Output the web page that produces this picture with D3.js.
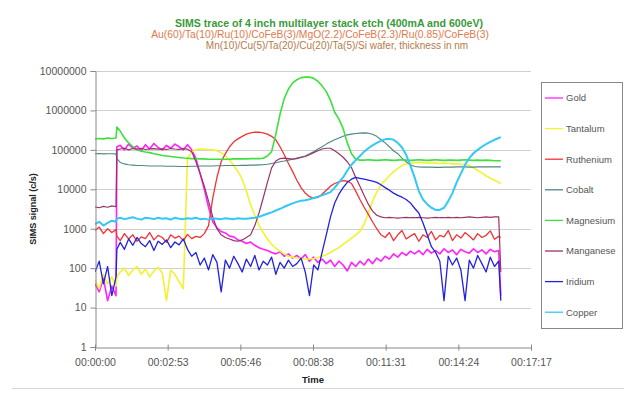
<!DOCTYPE html>
<html>
<head>
<meta charset="utf-8">
<script src="https://cdn.jsdelivr.net/npm/d3@7"></script>
<style>
  html, body { margin: 0; padding: 0; background: #fff; }
  svg text { font-family: "Liberation Sans", Arial, sans-serif; }
</style>
</head>
<body>
<div id="graph"></div>
<script>
// time in seconds since start of etch
const times = [0,10,20,30,40,50,52,
  60,70,80,90,100,110,120,130,140,150,
  160,170,180,190,200,210,220,230,240,250,
  260,270,280,290,300,310,320,330,340,350,
  360,370,380,390,400,410,420,430,440,450,
  460,470,480,490,500,510,520,530,540,550,
  560,570,580,590,600,610,620,630,640,650,
  660,670,680,690,700,710,720,730,740,750,
  760,770,780,790,800,810,820,830,840,850,
  860,870,880,890,900,910,920,930,940,950,
  960,965];

const seriesNames = ['Gold','Tantalum','Ruthenium','Cobalt','Magnesium','Manganese','Iridium','Copper'];

const gold = [40,25,55,15,35,20,
  120000,
  130000,100000,140000,110000,125000,95000,135000,105000,145000,115000,
  100000,130000,110000,140000,120000,100000,135000,100000,60000,25000,
  10000,3500,1500,1050,850,780,650,620,520,480,
  420,460,380,330,300,280,250,230,260,200,
  230,180,210,170,220,150,190,140,170,130,
  160,110,150,120,85,140,110,150,120,170,
  130,180,150,200,170,230,190,250,210,270,
  230,280,220,300,240,280,230,310,250,290,
  220,300,260,240,310,250,290,230,300,260,
  280,20];

const tantalum = [50,30,70,40,60,35,
  60,
  80,100,65,90,110,70,95,60,85,105,
  75,15,90,70,45,30,60000,90000,100000,105000,
  105000,100000,100000,95000,85000,70000,55000,40000,28000,18000,
  9000,4000,2200,1200,800,550,400,320,270,230,
  200,190,180,175,170,170,175,185,200,220,
  250,290,330,400,480,580,700,850,1300,2500,
  5000,8500,13000,17000,22000,28000,34000,40000,44000,46000,
  47000,48000,47000,46000,47000,46000,45000,46000,45000,44000,
  44000,43000,42000,40000,35000,30000,26000,22000,19000,17000,
  15000,14000];

const ruthenium = [900,1100,750,1000,800,950,
  650,
  500,750,550,700,480,620,560,800,520,680,
  600,450,700,580,650,500,720,560,640,600,
  750,1200,6000,20000,50000,80000,120000,160000,190000,220000,
  250000,270000,280000,280000,270000,250000,220000,180000,120000,75000,
  45000,28000,17000,11000,8000,6500,6000,6200,7500,9500,
  12000,14000,15500,16500,16000,14000,9000,5500,3500,2300,
  1500,1000,700,600,800,500,700,900,550,650,
  750,480,700,600,850,520,680,620,900,500,
  700,580,800,650,520,750,600,680,880,540,
  640,600];

const cobalt = [80000,81000,79000,80000,80000,79000,
  60000,
  48000,44000,42000,41000,40000,40000,39500,39000,39000,39000,
  39000,38500,38500,38500,38000,38000,38000,38500,38500,39000,
  39000,39000,39000,39500,39500,40000,40000,40000,40000,40500,
  40500,41000,41000,41500,42000,43000,45000,47000,50000,52000,
  55000,58000,62000,66000,70000,80000,90000,105000,120000,140000,
  160000,180000,200000,220000,240000,250000,260000,265000,270000,265000,
  250000,220000,180000,150000,120000,95000,80000,62000,50000,42000,
  38000,37000,36500,36500,36500,36000,36000,36500,36500,36500,
  37000,37000,37000,36500,36500,37000,37000,37000,37000,37000,
  37000,37000];

const magnesium = [190000,195000,190000,200000,195000,200000,
  380000,
  300000,200000,150000,120000,100000,92000,88000,85000,80000,76000,
  72000,70000,68000,66000,64000,62000,61000,60000,60000,59000,
  59000,58000,58000,58000,58000,58000,58000,59000,59000,59000,
  59000,60000,60000,60000,61000,70000,90000,250000,800000,2000000,
  3500000,5000000,6000000,6800000,7000000,7000000,6500000,5500000,4200000,3000000,
  1800000,900000,600000,350000,150000,80000,58000,55000,55000,56000,
  55000,54000,55000,56000,55000,54000,55000,56000,55000,54000,
  55000,56000,55000,54000,55000,56000,55000,54000,55000,55000,
  54000,55000,56000,55000,54000,55000,54000,55000,54000,53000,
  53000,53000];

const manganese = [3600,3400,3700,3500,3800,3600,
  100000,
  105000,110000,100000,108000,104000,110000,102000,106000,108000,104000,
  106000,102000,108000,105000,103000,107000,104000,90000,50000,25000,
  12000,5000,2000,1000,700,600,550,500,480,520,
  600,700,1200,2500,6000,15000,35000,52000,60000,62000,
  60000,58000,60000,64000,68000,75000,85000,95000,105000,110000,
  110000,95000,80000,65000,50000,35000,20000,12000,7000,4200,
  2800,2200,2000,1900,1950,1900,1850,1900,1950,1900,
  1900,1950,1900,1850,1900,1950,1900,1900,1950,1900,
  1950,1900,1950,2000,1950,1900,1950,2000,1950,2000,
  2000,80];

const iridium = [80,150,40,110,20,60,
  300,
  450,300,550,380,600,420,350,500,280,480,
  400,520,330,460,390,550,300,200,250,120,
  180,90,220,140,25,160,100,200,130,80,
  170,110,210,90,150,120,190,70,140,100,
  160,110,130,180,80,20,120,90,250,700,
  2000,4500,7500,11000,15000,18000,20000,19000,18000,17000,
  16000,15000,13000,11000,9500,8000,7000,6300,5500,4500,
  3300,2500,1400,700,350,250,150,15,200,120,
  180,90,15,160,100,210,130,80,190,110,
  150,15];

const copper = [1300,1500,1200,1400,1600,1500,
  1800,
  1900,1750,1850,1950,1800,1700,1900,1850,1750,1900,
  1800,1850,1700,1900,1800,1750,1850,1800,1900,1750,
  1800,1700,1850,1800,1750,1850,1800,1750,1850,1800,
  1800,1850,1900,2000,2200,2400,2600,2900,3200,3600,
  4000,4400,4800,5100,5300,5600,6000,6500,7000,7700,
  8500,11000,15000,20000,30000,42000,55000,70000,90000,110000,
  130000,150000,170000,185000,190000,180000,150000,115000,75000,40000,
  20000,9000,5500,4200,3400,3000,3000,3400,5000,8000,
  15000,25000,42000,62000,82000,100000,120000,140000,160000,180000,
  200000,210000];

const xTickValues = [0, 172.8, 345.6, 518.4, 691.2, 864, 1036.8];
const xTickLabels = ['00:00:00','00:02:53','00:05:46','00:08:38','00:11:31','00:14:24','00:17:17'];
const yTickValues = [1, 10, 100, 1000, 10000, 100000, 1000000, 10000000];
const yTickLabels = ['1','10','100','1000','10000','100000','1000000','10000000'];

const titleLines = [
  'SIMS trace of 4 inch multilayer stack etch (400mA and 600eV)',
  'Au(60)/Ta(10)/Ru(10)/CoFeB(3)/MgO(2.2)/CoFeB(2.3)/Ru(0.85)/CoFeB(3)',
  'Mn(10)/Cu(5)/Ta(20)/Cu(20)/Ta(5)/Si wafer, thickness in nm'
];

let width = 624;
let height = 403;
let plot = { left: 95, right: 531, top: 71, bottom: 347 };

let svg = d3.select('#graph').append('svg')
  .attr('width', width).attr('height', height);

// chart area bottom edge
svg.append('line')
  .attr('x1', 12).attr('x2', width).attr('y1', 388.5).attr('y2', 388.5)
  .attr('stroke', '#d4d4d4');

let x = d3.scaleLinear().domain([0, 1036.8]).range([plot.left, plot.right]);
let y = d3.scaleLog().domain([1, 10000000]).range([plot.bottom, plot.top]);

// gridlines
svg.append('g').selectAll('line')
  .data(yTickValues.slice(1))
  .enter().append('line')
  .attr('x1', plot.left).attr('x2', plot.right)
  .attr('y1', d => Math.round(y(d)) + 0.5).attr('y2', d => Math.round(y(d)) + 0.5)
  .attr('stroke', '#cfcfcf');

// clip
svg.append('clipPath').attr('id', 'clip')
  .append('rect')
  .attr('x', plot.left).attr('y', plot.top - 2)
  .attr('width', plot.right - plot.left + 2).attr('height', plot.bottom - plot.top + 2);

let colors = ['#ff22ff', '#f2f230', '#f03434', '#4f8585', '#3ee03e', '#993366', '#2222dd', '#33c8f5'];
let widths = [1.6, 1.6, 1.3, 1.1, 1.6, 1.2, 1.3, 2];
let allValues = [gold, tantalum, ruthenium, cobalt, magnesium, manganese, iridium, copper];

let line = d3.line()
  .x(d => x(d[0]))
  .y(d => y(d[1]));

let linesG = svg.append('g').attr('clip-path', 'url(#clip)');
allValues.forEach(function(vals, i) {
  let pts = times.map((t, k) => [t, vals[k]]).filter(p => p[1] != null);
  linesG.append('path')
    .datum(pts)
    .attr('fill', 'none')
    .attr('stroke', colors[i])
    .attr('stroke-width', widths[i])
    .attr('stroke-linejoin', 'round')
    .attr('d', line);
});

// y axis
let yAxis = d3.axisLeft(y)
  .tickValues(yTickValues)
  .tickFormat((d, i) => yTickLabels[i])
  .tickSize(5).tickPadding(4);
let yg = svg.append('g').attr('transform', 'translate(' + (plot.left + 0.5) + ',0)').call(yAxis);
yg.select('.domain').attr('stroke', '#888');
yg.selectAll('.tick line').attr('stroke', '#888');
yg.selectAll('text').attr('font-size', '10.5px').attr('fill', '#555');

// x axis (cross ticks)
let xAxis = d3.axisBottom(x)
  .tickValues(xTickValues)
  .tickFormat((d, i) => xTickLabels[i])
  .tickSize(3).tickPadding(8);
let xg = svg.append('g').attr('transform', 'translate(0,' + (plot.bottom + 0.5) + ')').call(xAxis);
xg.select('.domain').attr('stroke', '#888');
xg.selectAll('.tick line').attr('stroke', '#888').attr('y1', -3);
xg.selectAll('text').attr('font-size', '10.5px').attr('fill', '#555');

// titles
let titleColors = ['#3a9a3a', '#e07a4c', '#b57a4a'];
let titleX = [329, 320, 337];
let titleY = [23, 34, 45];
let titleSize = ['10.6px', '10.3px', '10px'];
svg.append('g').selectAll('text')
  .data(titleLines)
  .enter().append('text')
  .attr('x', (d, i) => titleX[i])
  .attr('y', (d, i) => titleY[i])
  .attr('dy', '0.35em')
  .attr('text-anchor', 'middle')
  .attr('font-size', (d, i) => titleSize[i])
  .attr('font-weight', (d, i) => i == 0 ? 'bold' : 'normal')
  .attr('fill', (d, i) => titleColors[i])
  .text(d => d);

svg.append('text')
  .attr('x', 313).attr('y', 380).attr('dy', '0.35em')
  .attr('text-anchor', 'middle')
  .attr('font-size', '9.5px').attr('font-weight', 'bold').attr('fill', '#222')
  .text('Time');

svg.append('text')
  .attr('transform', 'translate(33,' + ((plot.top + plot.bottom) / 2) + ') rotate(-90)')
  .attr('dy', '0.35em')
  .attr('text-anchor', 'middle')
  .attr('font-size', '9px').attr('font-weight', 'bold').attr('fill', '#222')
  .text('SIMS signal (c/s)');

// legend
let legend = svg.append('g');
legend.append('rect')
  .attr('x', 541.5).attr('y', 82.5).attr('width', 81).attr('height', 246)
  .attr('fill', '#fff').attr('stroke', '#888');
let items = legend.selectAll('.item')
  .data(seriesNames)
  .enter().append('g')
  .attr('class', 'item')
  .attr('transform', (d, i) => 'translate(0,' + (98 + i * 30.6) + ')');
items.append('line')
  .attr('x1', 545).attr('x2', 563)
  .attr('stroke', (d, i) => colors[i])
  .attr('stroke-width', 1.3);
items.append('text')
  .attr('x', 566).attr('dy', '0.35em')
  .attr('font-size', '9.5px').attr('fill', '#555')
  .text(d => d);
</script>
</body>
</html>
